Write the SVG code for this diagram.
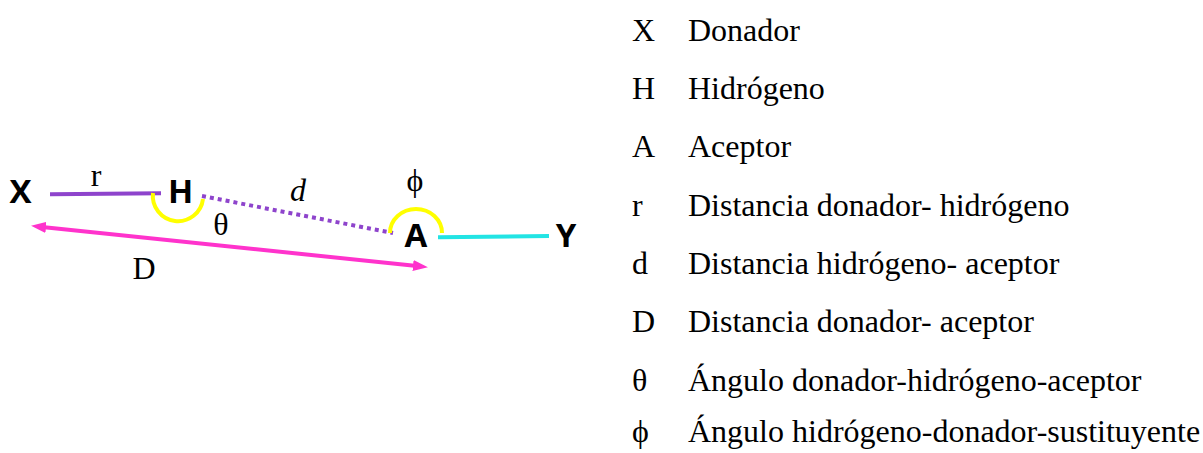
<svg xmlns="http://www.w3.org/2000/svg" width="1203" height="453" viewBox="0 0 1203 453">
<style>
.atom{font-family:"Open Sans","Noto Sans",sans-serif;font-weight:bold;font-size:33px;fill:#000;text-anchor:middle}
.lbl{font-family:"Liberation Serif","Times New Roman",serif;font-size:32px;fill:#000}
.mid{text-anchor:middle}
.sym{font-family:"Liberation Serif","DejaVu Serif",serif}
</style>
<defs>
<marker id="ah" markerUnits="userSpaceOnUse" markerWidth="15" markerHeight="11" refX="4" refY="5.5" orient="auto-start-reverse" viewBox="0 0 15 11">
<path d="M0,0 L15,5.5 L0,11 z" fill="#ff33cc"/>
</marker>
</defs>
<rect width="1203" height="453" fill="#fff"/>
<g id="connectors" fill="none" stroke-width="4">
<line x1="50" y1="194.3" x2="161" y2="193.3" stroke="#8e44cc"/>
<line x1="202" y1="196" x2="393" y2="233" stroke="#8e44cc" stroke-dasharray="4 4"/>
<line x1="438" y1="237.3" x2="549" y2="236" stroke="#22e4e4"/>
<line x1="42" y1="227" x2="417" y2="266" stroke="#ff33cc" marker-start="url(#ah)" marker-end="url(#ah)"/>
<path d="M153,193 A25,25 0 0 0 203,199" stroke="#ffff00"/>
<path d="M390,233 A26,24 0 0 1 442,233" stroke="#ffff00"/>
</g>
<g id="node-X"><text class="atom" x="20.5" y="203">X</text></g>
<g id="node-H"><text class="atom" x="180.5" y="203">H</text></g>
<g id="node-A"><text class="atom" x="416" y="247">A</text></g>
<g id="node-Y"><text class="atom" x="566" y="247">Y</text></g>
<g id="labels">
<text class="lbl mid" x="96" y="186">r</text>
<text class="lbl mid" x="298" y="201" font-style="italic" font-size="26">d</text>
<text class="lbl mid sym" x="221" y="235">θ</text>
<text class="lbl mid" x="144" y="279">D</text>
<text class="lbl mid sym" x="415" y="191">ϕ</text>
</g>
<g id="legend" class="lbl">
<text x="632" y="41">X</text><text x="688" y="41">Donador</text>
<text x="632" y="99">H</text><text x="688" y="99">Hidrógeno</text>
<text x="632" y="157">A</text><text x="688" y="157">Aceptor</text>
<text x="632" y="215.5">r</text><text x="688" y="215.5">Distancia donador- hidrógeno</text>
<text x="632" y="274">d</text><text x="688" y="274">Distancia hidrógeno- aceptor</text>
<text x="632" y="332">D</text><text x="688" y="332">Distancia donador- aceptor</text>
<text x="632" y="390.5" class="sym">θ</text><text x="688" y="390.5">Ángulo donador-hidrógeno-aceptor</text>
<text x="632" y="442" class="sym">ϕ</text><text x="688" y="442">Ángulo hidrógeno-donador-sustituyente</text>
</g>
</svg>
